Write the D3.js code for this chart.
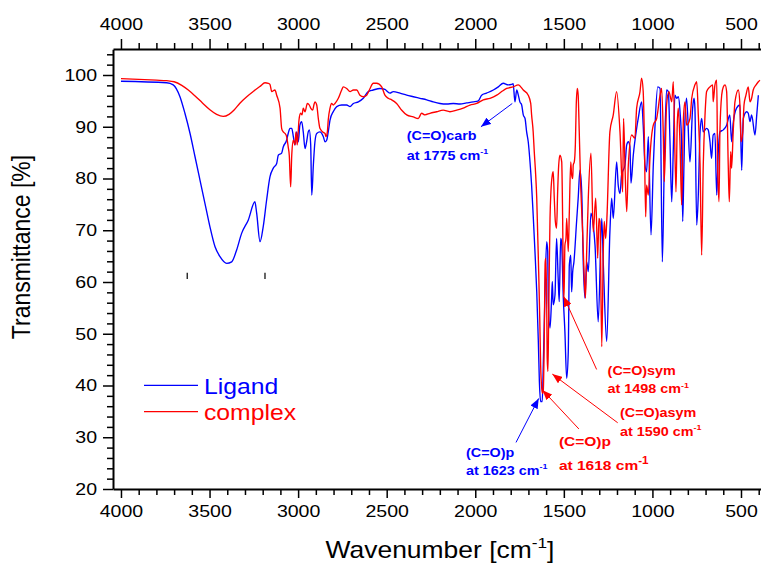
<!DOCTYPE html>
<html><head><meta charset="utf-8">
<script src="https://cdn.jsdelivr.net/npm/d3@7"></script>
<style>html,body{margin:0;padding:0;background:#fff;} svg{display:block;font-family:"Liberation Sans",Arial,sans-serif;}</style>
</head><body>
<svg id="chart" width="761" height="563"></svg>
<script>
// ---------------- DATA (wavenumber cm-1, transmittance %) ----------------
const ligand = [[4000,98.8],[3742,98.5],[3705,98.1],[3667,95.8],[3639,92.6],[3610,88.7],[3582,84.2],[3554,79.7],[3526,75.2],[3498,70.7],[3469,66.8],[3441,64.9],[3403,63.6],[3375,63.9],[3347,66.2],[3319,69.4],[3281,72.0],[3244,75.5],[3234,73.3],[3215,67.8],[3197,70.7],[3178,75.8],[3159,80.3],[3140,82.0],[3121,82.9],[3112,84.5],[3093,84.9],[3084,86.1],[3065,87.4],[3056,88.7],[3046,89.7],[3036,89.7],[3027,88.1],[3018,86.5],[3008,89.0],[2999,87.1],[2990,90.3],[2980,91.0],[2971,89.0],[2961,85.8],[2952,87.1],[2943,89.0],[2937,89.4],[2929,86.5],[2923,76.8],[2914,82.6],[2905,87.1],[2895,88.7],[2877,89.0],[2858,88.1],[2848,87.1],[2839,87.4],[2830,89.0],[2820,91.3],[2802,92.9],[2782,93.9],[2754,94.2],[2726,94.2],[2707,93.9],[2688,94.5],[2660,94.8],[2632,95.5],[2604,96.8],[2576,97.1],[2538,97.4],[2510,97.2],[2482,96.5],[2463,96.8],[2425,96.5],[2387,96.1],[2350,95.8],[2312,95.5],[2274,95.2],[2237,94.8],[2199,94.5],[2161,94.4],[2124,94.5],[2086,94.4],[2049,94.6],[2011,94.8],[1983,95.0],[1964,96.1],[1936,96.5],[1898,97.1],[1870,97.7],[1842,98.4],[1814,98.1],[1795,98.2],[1786,98.3],[1776,94.8],[1766,97.1],[1757,96.1],[1748,94.8],[1738,94.2],[1729,92.3],[1719,91.6],[1710,89.0],[1701,87.1],[1691,83.2],[1682,78.7],[1673,72.9],[1663,65.9],[1653,58.1],[1644,48.5],[1638,40.7],[1631,36.9],[1622,36.9],[1616,44.0],[1607,56.9],[1597,67.8],[1591,65.9],[1588,56.9],[1578,51.1],[1569,56.9],[1565,60.1],[1560,55.6],[1550,57.5],[1541,68.4],[1532,60.7],[1526,56.2],[1518,68.4],[1513,67.8],[1503,56.9],[1494,50.4],[1484,41.4],[1475,46.5],[1469,63.3],[1461,65.2],[1456,58.1],[1450,62.0],[1443,63.9],[1428,71.7],[1419,76.2],[1409,81.6],[1399,77.4],[1390,63.3],[1381,56.9],[1371,63.9],[1362,62.0],[1347,73.3],[1334,71.0],[1324,67.1],[1306,52.3],[1286,72.3],[1277,63.3],[1258,48.5],[1240,69.7],[1230,76.2],[1221,72.3],[1202,83.2],[1193,78.7],[1183,77.1],[1174,80.7],[1155,82.6],[1145,86.5],[1136,87.1],[1127,86.2],[1121,79.1],[1108,84.5],[1089,89.7],[1080,91.6],[1061,94.8],[1052,90.3],[1042,82.6],[1033,81.3],[1023,88.1],[1008,69.1],[995,82.6],[986,89.7],[970,97.7],[957,97.4],[944,63.9],[933,82.6],[920,97.1],[910,96.8],[901,87.4],[891,75.5],[882,85.8],[873,96.1],[863,95.5],[854,95.8],[844,92.9],[835,86.5],[829,71.7],[822,82.6],[816,91.6],[807,95.5],[788,83.2],[773,93.6],[765,95.5],[760,93.6],[750,71.0],[741,76.8],[731,89.0],[722,91.6],[713,89.0],[694,89.7],[685,89.4],[675,87.1],[666,83.9],[657,88.4],[647,88.7],[637,76.8],[628,85.2],[619,89.0],[600,89.4],[581,90.3],[563,92.3],[553,87.1],[544,90.7],[525,93.6],[506,94.2],[496,81.6],[487,91.6],[468,92.9],[459,92.6],[449,91.0],[440,92.3],[421,88.4],[411,92.3],[402,96.1]];

const complex = [[4000,99.3],[3800,99.0],[3742,98.9],[3700,98.7],[3657,98.0],[3620,97.1],[3580,95.9],[3540,94.6],[3498,93.3],[3460,92.4],[3423,92.0],[3390,92.4],[3360,93.3],[3330,94.5],[3290,95.8],[3250,96.9],[3215,97.8],[3187,98.5],[3168,98.4],[3159,98.2],[3149,96.8],[3131,97.1],[3121,96.1],[3102,93.6],[3093,89.7],[3084,89.0],[3074,88.7],[3065,88.1],[3056,86.1],[3050,84.5],[3042,78.4],[3036,84.5],[3027,87.4],[3018,86.5],[3012,89.0],[3005,86.5],[2995,91.3],[2986,92.6],[2978,92.3],[2971,93.6],[2961,92.9],[2948,94.5],[2937,94.2],[2929,93.6],[2918,93.2],[2911,94.2],[2905,94.8],[2895,94.2],[2886,91.6],[2877,89.7],[2861,89.0],[2848,88.7],[2843,88.1],[2835,89.0],[2830,91.3],[2820,93.6],[2811,94.5],[2802,94.2],[2792,94.5],[2773,95.5],[2754,97.1],[2745,97.7],[2726,97.4],[2707,96.8],[2688,97.1],[2669,97.1],[2651,96.1],[2632,95.8],[2613,96.1],[2594,97.4],[2576,98.4],[2557,98.4],[2528,97.7],[2510,96.1],[2491,95.5],[2472,95.2],[2444,94.5],[2415,93.2],[2387,92.3],[2350,91.9],[2322,91.6],[2303,92.6],[2284,92.3],[2256,92.6],[2218,92.9],[2181,93.2],[2143,92.9],[2105,93.2],[2068,93.6],[2030,94.2],[1992,94.5],[1955,95.2],[1917,95.5],[1879,96.1],[1851,96.8],[1823,97.4],[1786,97.7],[1757,98.1],[1729,97.1],[1701,96.1],[1687,94.5],[1682,92.3],[1673,89.0],[1667,85.2],[1659,80.7],[1653,76.2],[1648,69.7],[1642,62.0],[1636,53.0],[1631,44.0],[1625,39.5],[1620,38.5],[1616,39.1],[1610,50.4],[1606,63.3],[1603,64.6],[1597,56.9],[1594,45.3],[1590,42.7],[1586,51.7],[1582,63.3],[1578,72.3],[1573,77.4],[1565,80.7],[1560,81.3],[1554,76.2],[1548,71.7],[1541,70.4],[1535,77.4],[1529,82.6],[1522,84.5],[1512,83.2],[1507,72.9],[1503,60.7],[1499,56.9],[1494,67.1],[1488,68.4],[1484,72.3],[1475,65.9],[1469,73.6],[1461,83.2],[1456,80.7],[1450,80.0],[1447,82.6],[1441,83.2],[1435,86.5],[1430,94.2],[1424,97.4],[1419,96.1],[1413,89.0],[1405,78.7],[1399,73.6],[1394,69.7],[1390,65.9],[1384,60.1],[1378,56.9],[1371,65.9],[1362,76.2],[1347,84.9],[1334,69.7],[1320,76.2],[1309,64.6],[1302,72.3],[1296,71.7],[1286,47.5],[1277,66.5],[1272,71.7],[1264,68.4],[1257,72.3],[1240,89.0],[1221,92.3],[1202,96.8],[1183,89.0],[1168,77.4],[1163,91.6],[1155,82.6],[1145,73.6],[1136,82.6],[1117,88.4],[1099,87.8],[1089,93.6],[1070,96.8],[1061,99.4],[1052,96.8],[1046,89.0],[1038,72.6],[1033,78.7],[1023,76.8],[1014,83.9],[995,90.3],[976,91.6],[957,96.1],[948,97.4],[939,89.0],[933,79.4],[920,94.2],[907,96.8],[891,94.8],[882,98.7],[867,77.4],[860,90.3],[854,93.6],[844,86.5],[835,74.9],[825,91.6],[816,94.8],[807,90.3],[788,91.6],[778,95.5],[760,98.1],[750,98.7],[741,92.3],[731,82.6],[722,65.2],[713,82.6],[703,92.3],[694,96.8],[675,97.7],[660,98.1],[657,94.8],[647,98.1],[637,99.0],[632,82.6],[624,75.5],[619,89.0],[609,96.1],[600,97.7],[590,98.1],[581,96.8],[572,82.6],[566,75.5],[558,85.2],[553,82.0],[544,89.0],[534,94.8],[515,97.1],[506,94.2],[500,87.1],[490,89.0],[483,94.2],[472,96.1],[459,97.7],[449,94.8],[440,95.5],[431,97.1],[415,98.1],[402,98.7],[393,99.0]];

const seriesNames = ["Ligand", "complex"];
const seriesColors = ["#0000ff", "#ff0000"];
const xMajorTicks = [4000, 3500, 3000, 2500, 2000, 1500, 1000, 500];
const yMajorTicks = [20, 30, 40, 50, 60, 70, 80, 90, 100];
const xTitle = "Wavenumber [cm";
const yTitle = "Transmittance [%]";

// peak annotations: label lines, text anchor (wn,T baselines), arrow tail -> head
const annLabels = ["(C=O)carb", "(C=O)p", "(C=O)p", "(C=O)asym", "(C=O)sym"];
const annValues = ["1775", "1623", "1618", "1590", "1498"];
const annSeries = [0, 0, 1, 1, 1];
const annText = [[2387, 87.4, 83.6], [2052, 26.2, 22.7], [1528, 28.4, 23.7], [1183, 34.0, 30.3], [1253, 42.0, 38.5]];
const annArrow = [[1791, 94.5, 1968, 90.0], [1770, 29.0, 1642, 37.5], [1415, 31.6, 1620, 39.1], [1196, 32.8, 1565, 42.2], [1315, 43.1, 1501, 57.2]];
const annSize = [12.5, 12.5, 13.5, 12.5, 12.5];
const bandMarks = [3626, 3187];

// ---------------- CHART ----------------
const SX = 1.15; // horizontal stretch of the original text rendering
const svg = d3.select("#chart");
const x = d3.scaleLinear().domain([4045, 350]).range([113, 113 + 3695 / 5.645]);
const y = d3.scaleLinear().domain([20, 105]).range([489, 489 - 85 * 5.175]);

svg.append("defs").append("clipPath").attr("id", "clip")
  .append("rect").attr("x", 113).attr("y", 49).attr("width", 660).attr("height", 440);

function txt(g, px, py, str, size, opts = {}) {
  const t = g.append("text")
    .attr("transform", `translate(${px},${py})${opts.rotate ? " rotate(-90) scale(1," + SX + ")" : " scale(" + SX + ",1)"}`)
    .attr("font-size", size)
    .attr("fill", opts.fill || "#000")
    .attr("font-weight", opts.bold ? "bold" : null)
    .attr("text-anchor", opts.anchor || "start");
  t.text(str);
  return t;
}

const xMinor = d3.range(4000, 299, -100).filter(v => v % 500 !== 0);
const yMinor = d3.range(22, 105, 2).filter(v => v % 10 !== 0);

function styleAxis(g, fs) {
  g.select(".domain").attr("stroke", "#000").attr("stroke-width", 2);
  g.selectAll(".tick line").attr("stroke", "#000").attr("stroke-width", 1.5);
  g.selectAll(".tick text").attr("font-size", fs).attr("fill", "#000")
    .attr("font-family", '"Liberation Sans",Arial,sans-serif');
}

const gB = svg.append("g").attr("transform", "translate(0,489)")
  .call(d3.axisBottom(x).tickValues(xMajorTicks).tickSize(9).tickSizeOuter(0).tickPadding(7).tickFormat(d3.format("d")));
styleAxis(gB, 17);
gB.selectAll(".tick text").attr("transform", `scale(${SX},1)`);
const gBm = svg.append("g").attr("transform", "translate(0,489)")
  .call(d3.axisBottom(x).tickValues(xMinor).tickSize(6).tickSizeOuter(0).tickFormat(""));
styleAxis(gBm, 17); gBm.select(".domain").remove();

const gT = svg.append("g").attr("transform", "translate(0,49)")
  .call(d3.axisTop(x).tickValues(xMajorTicks).tickSize(10).tickSizeOuter(0).tickPadding(9.5).tickFormat(d3.format("d")));
styleAxis(gT, 17);
gT.selectAll(".tick text").attr("transform", `scale(${SX},1)`);
const gTm = svg.append("g").attr("transform", "translate(0,49)")
  .call(d3.axisTop(x).tickValues(xMinor).tickSize(6).tickSizeOuter(0).tickFormat(""));
styleAxis(gTm, 17); gTm.select(".domain").remove();

const gL = svg.append("g").attr("transform", "translate(113,0)")
  .call(d3.axisLeft(y).tickValues(yMajorTicks).tickSize(10).tickSizeOuter(0).tickPadding(6).tickFormat(d3.format("d")));
styleAxis(gL, 17);
gL.selectAll(".tick text").attr("x", -16 / SX).attr("transform", `scale(${SX},1)`);
const gLm = svg.append("g").attr("transform", "translate(113,0)")
  .call(d3.axisLeft(y).tickValues(yMinor).tickSize(6).tickSizeOuter(0).tickFormat(""));
styleAxis(gLm, 17); gLm.select(".domain").remove();

// series
const line = d3.line().x(d => x(d[0])).y(d => y(d[1])).curve(d3.curveMonotoneX);
const plot = svg.append("g").attr("clip-path", "url(#clip)");
[ligand, complex].forEach((s, i) => {
  plot.append("path").datum(s).attr("d", line)
    .attr("fill", "none").attr("stroke", seriesColors[i]).attr("stroke-width", 1.35)
    .attr("stroke-linejoin", "round");
});

// small band markers
bandMarks.forEach(w => {
  svg.append("line").attr("x1", x(w)).attr("x2", x(w)).attr("y1", y(61.8)).attr("y2", y(60.6))
    .attr("stroke", "#000").attr("stroke-width", 1.2);
});

// titles
const xt = txt(svg, 440, 558, xTitle, 23, { anchor: "middle" });
xt.append("tspan").attr("font-size", 15).attr("dy", -10).text("-1");
xt.append("tspan").attr("dy", 10).text("]");
txt(svg, 30, 247, yTitle, 23, { anchor: "middle", rotate: true });

// legend
const legY = [385.3, 411.7];
seriesNames.forEach((n, i) => {
  svg.append("line").attr("x1", 144).attr("x2", 198).attr("y1", legY[i]).attr("y2", legY[i])
    .attr("stroke", seriesColors[i]).attr("stroke-width", 1.3);
  txt(svg, 204, legY[i] + 8.2, n, 21.5, { fill: seriesColors[i] });
});

// annotations
const defs = svg.select("defs");
seriesColors.forEach((c, i) => {
  defs.append("marker").attr("id", "ah" + i).attr("markerUnits", "userSpaceOnUse")
    .attr("viewBox", "0 0 10 8").attr("markerWidth", 10).attr("markerHeight", 8)
    .attr("refX", 10).attr("refY", 4).attr("orient", "auto")
    .append("path").attr("d", "M0,0 L10,4 L0,8 Z").attr("fill", c);
});
annLabels.forEach((lab, i) => {
  const c = seriesColors[annSeries[i]];
  const a = annArrow[i];
  svg.append("line").attr("x1", x(a[0])).attr("y1", y(a[1])).attr("x2", x(a[2])).attr("y2", y(a[3]))
    .attr("stroke", c).attr("stroke-width", 1).attr("marker-end", `url(#ah${annSeries[i]})`);
  const t = annText[i];
  txt(svg, x(t[0]), y(t[1]), lab, annSize[i], { fill: c, bold: true });
  const t2 = txt(svg, x(t[0]), y(t[2]), "at " + annValues[i] + " cm", annSize[i], { fill: c, bold: true });
  t2.append("tspan").attr("font-size", annSize[i] * (i === 2 ? 0.75 : 0.62)).attr("dy", -annSize[i] * 0.45).text("-1");
});
</script>
</body></html>
